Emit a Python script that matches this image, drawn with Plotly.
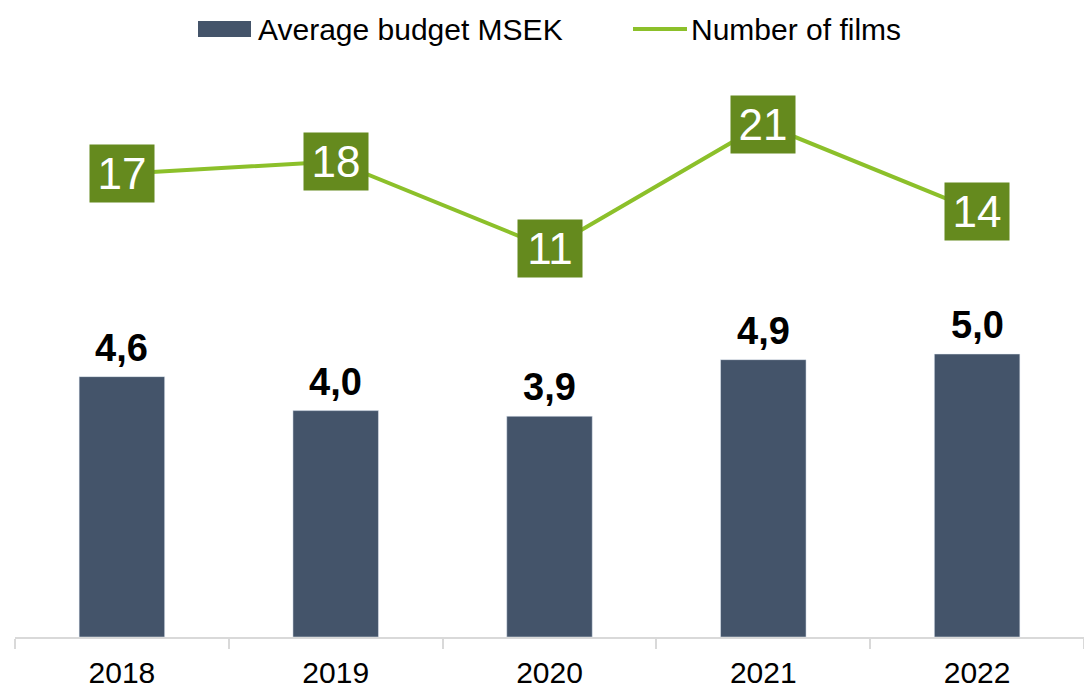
import plotly.graph_objects as go

years = ["2018", "2019", "2020", "2021", "2022"]
avg_budget = [4.6, 4.0, 3.9, 4.9, 5.0]
num_films = [17, 18, 11, 21, 14]

bar_name = "Average budget MSEK"
line_name = "Number of films"

BAR_COLOR = "#44546A"
LINE_COLOR = "#8CC02A"
BOX_COLOR = "#658A1E"
FONT = "Arial, Liberation Sans, sans-serif"

W, H = 1084, 690
ML, MR, MT, MB = 15, 0, 60, 53
PW = W - ML - MR
PH = H - MT - MB

fig = go.Figure()
fig.add_trace(go.Bar(x=years, y=avg_budget, name=bar_name, marker_color=BAR_COLOR,
                     showlegend=False, yaxis="y"))
fig.add_trace(go.Scatter(x=years, y=num_films, name=line_name, mode="lines",
                         line=dict(color=LINE_COLOR, width=4), showlegend=False,
                         yaxis="y2"))

ann = []
for i, v in enumerate(avg_budget):
    ann.append(dict(x=i, y=v, xref="x", yref="y", text="<b>" + f"{v:.1f}".replace(".", ",") + "</b>",
                    showarrow=False, yanchor="bottom", xanchor="center", yshift=6,
                    font=dict(family=FONT, size=38, color="black")))
for i, v in enumerate(num_films):
    ann.append(dict(x=i, y=v, xref="x", yref="y2", text=str(v), showarrow=False,
                    xanchor="center", yanchor="middle", width=64, height=57,
                    bgcolor=BOX_COLOR, borderpad=0,
                    font=dict(family=FONT, size=44, color="white")))

# legend (manual)
def px_x(p):
    return (p - ML) / PW
def px_y(p):
    return (H - MB - p) / PH

shapes = [
    dict(type="rect", xref="paper", yref="paper", x0=px_x(198), x1=px_x(251),
         y0=px_y(37), y1=px_y(21), fillcolor=BAR_COLOR, line=dict(width=0)),
    dict(type="line", xref="paper", yref="paper", x0=px_x(633), x1=px_x(687),
         y0=px_y(29), y1=px_y(29), line=dict(color=LINE_COLOR, width=4)),
]
ann.append(dict(x=px_x(256), y=px_y(29), xref="paper", yref="paper", text=bar_name,
                showarrow=False, xanchor="left", yanchor="middle",
                font=dict(family=FONT, size=30, color="black")))
ann.append(dict(x=px_x(689), y=px_y(29), xref="paper", yref="paper", text=line_name,
                showarrow=False, xanchor="left", yanchor="middle",
                font=dict(family=FONT, size=30, color="black")))

fig.update_layout(
    width=W, height=H,
    margin=dict(l=ML, r=MR, t=MT, b=MB, autoexpand=False),
    paper_bgcolor="white", plot_bgcolor="white",
    bargap=0.6,
    showlegend=False,
    annotations=ann,
    shapes=shapes,
    xaxis=dict(type="category", range=[-0.5, len(years) - 0.5], autorange=False,
               showline=True, linecolor="#D9D9D9", linewidth=2, tickangle=0,
               ticks="outside", tickson="boundaries", ticklen=10, tickcolor="#D9D9D9",
               tickwidth=2, tickfont=dict(family=FONT, size=30, color="black"),
               ticklabelstandoff=8,
               showgrid=False, zeroline=False, automargin=False),
    yaxis=dict(range=[0, PH / 56.6], autorange=False, visible=False, showgrid=False, zeroline=False),
    yaxis2=dict(range=[-(H - MB - 385.5) / 12.45, (385.5 - MT) / 12.45], autorange=False,
                overlaying="y", visible=False, showgrid=False, zeroline=False),
)

fig.write_html("out.html", config={"displayModeBar": False},
               post_script="document.body.style.margin='0';document.body.style.overflow='hidden';")
